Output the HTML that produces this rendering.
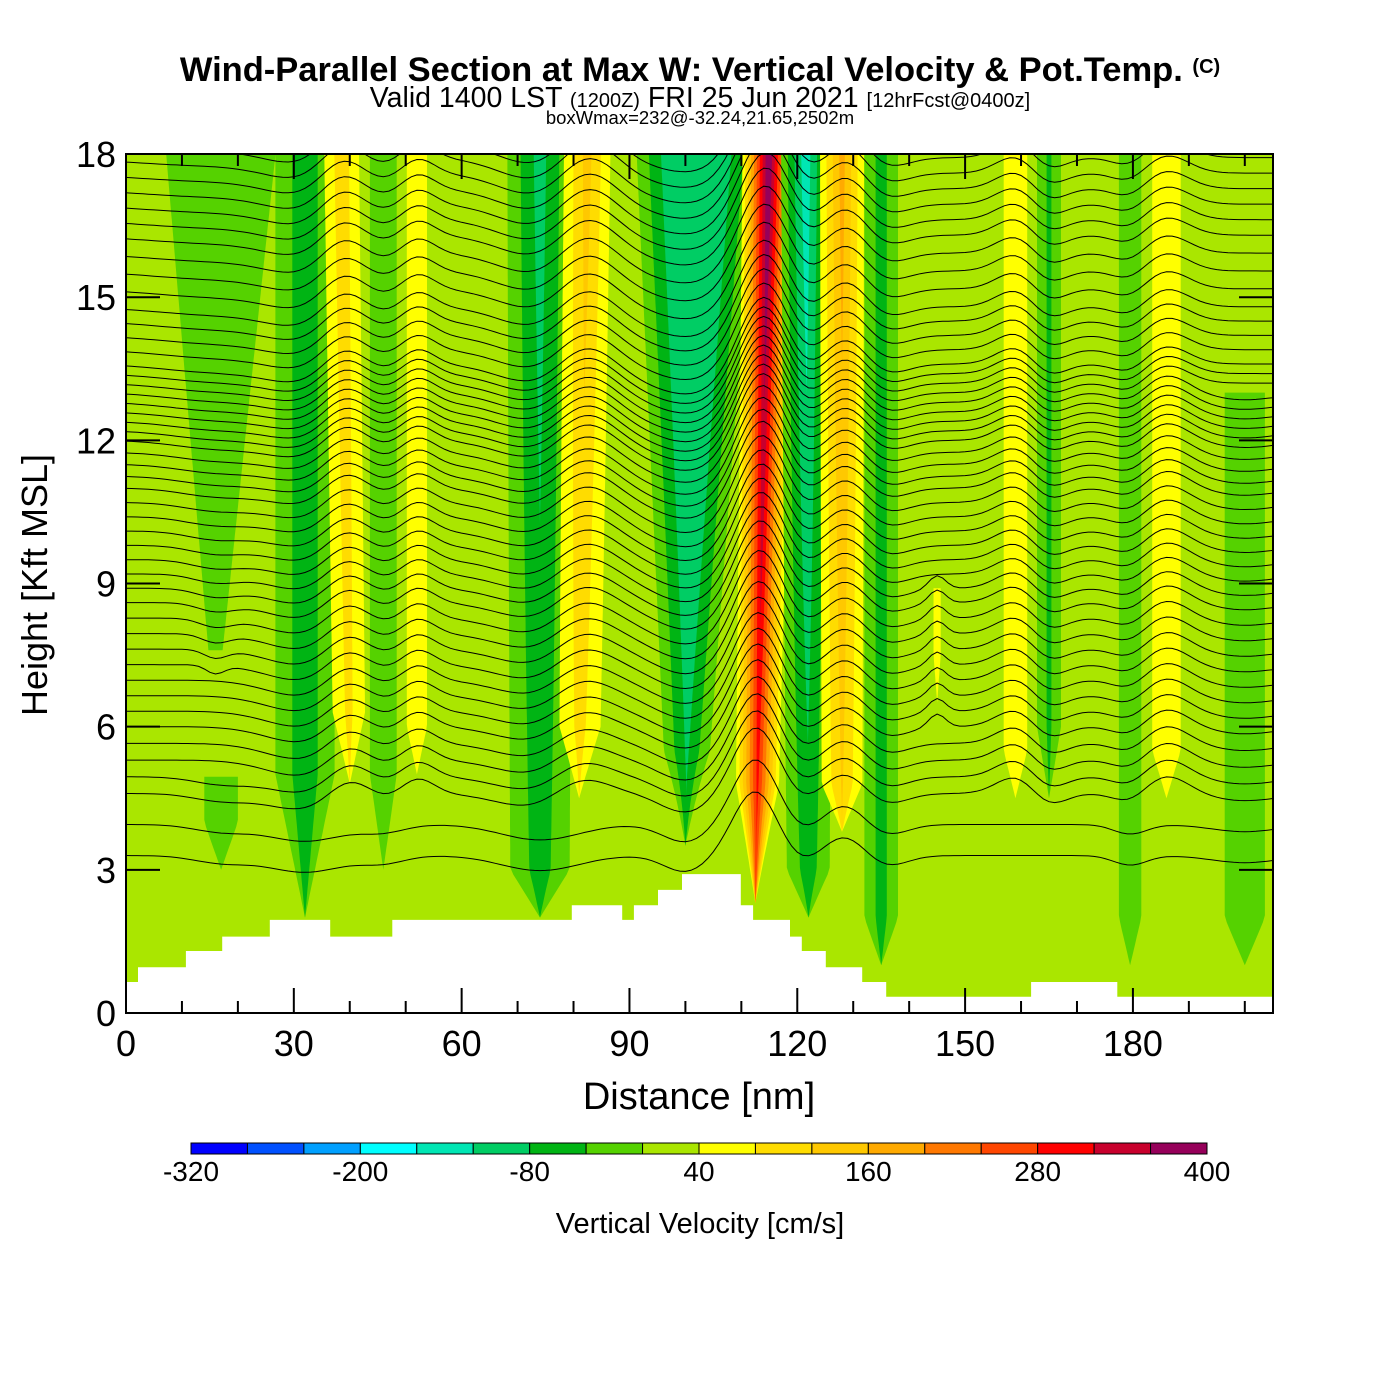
<!DOCTYPE html>
<html><head><meta charset="utf-8"><style>
html,body{margin:0;padding:0;background:#fff;}
svg{display:block;font-family:"Liberation Sans",sans-serif;}
</style></head><body>
<svg id="chart" width="1400" height="1400" viewBox="0 0 1400 1400" xmlns="http://www.w3.org/2000/svg">
<rect width="1400" height="1400" fill="#fff"/>
<text x="700" y="81" text-anchor="middle" font-size="34.5" font-weight="bold">Wind-Parallel Section at Max W: Vertical Velocity &amp; Pot.Temp. <tspan font-size="20" dy="-8">(C)</tspan></text>
<text x="700" y="107" text-anchor="middle" font-size="28.5">Valid 1400 LST <tspan font-size="20">(1200Z)</tspan> FRI 25 Jun 2021 <tspan font-size="20">[12hrFcst@0400z]</tspan></text>
<text x="700" y="124" text-anchor="middle" font-size="18.5">boxWmax=232@-32.24,21.65,2502m</text>
<defs><clipPath id="plotclip"><rect x="126" y="154" width="1147" height="859"/></clipPath></defs>
<g id="plot" clip-path="url(#plotclip)"></g>
<g id="axes"></g>
<text transform="translate(47,585) rotate(-90)" text-anchor="middle" font-size="36">Height [Kft MSL]</text>
<text x="699" y="1109" text-anchor="middle" font-size="38">Distance [nm]</text>
<g id="cbar"></g>
<text x="700" y="1233" text-anchor="middle" font-size="29">Vertical Velocity [cm/s]</text>
</svg>
<script>
// ---- data ----
const binColors = ["#0000ff","#0050ff","#00a0ff","#00ffff","#00e6b4","#00cd64","#00b414","#55d200","#aae600","#ffff00","#ffdc00","#ffc800","#ffaa00","#ff7800","#ff4600","#ff0000","#c8002d","#96005a"];
const cbarTicks = [-320,-200,-80,40,160,280,400];
const xTicks = [0,30,60,90,120,150,180];
const yTicks = [0,3,6,9,12,15,18];
const background = 20;
// vertical-velocity features (nm, kft, cm/s)
const stripeCenterBottom = [16, 17, 32, 40, 46, 52, 74, 81, 100, 112.5, 122, 128, 135, 145, 159, 165, 179.5, 186, 200];
const stripeCenterTop    = [17, 17, 32, 38.5, 46, 52, 74, 82.5, 102, 115, 121.5, 128, 135, 145, 159, 165, 179.5, 186, 200];
const stripeBottom       = [7.6, 3, 2, 4.8, 3, 5, 2, 4.5, 3.5, 2.3, 2, 3.8, 1, 6.5, 4.5, 4.5, 1, 4.5, 1];
const stripeTop          = [18.5, 5, 18.5, 18.5, 18.5, 18.5, 18.5, 18.5, 18.5, 18.5, 18.5, 18.5, 18.5, 9, 18.5, 18.5, 18.5, 18.5, 13];
const stripeHalfWBottom  = [2, 5, 6.8, 4, 4, 3, 7, 5, 4, 4, 5, 4.5, 4, 1.5, 3.5, 3, 3, 4, 6];
const stripeHalfWTop     = [16, 5, 6.8, 4, 4, 3, 7, 5, 12, 5, 5, 4.5, 4, 1.5, 3.5, 3, 3, 4, 6];
const stripePeakBottom   = [-35, -30, -70, 90, -30, 70, -60, 90, -70, 270, -60, 120, -60, 55, 70, -50, -40, 75, -30];
const stripePeakTop      = [-35, -30, -70, 110, -30, 70, -100, 140, -200, 410, -150, 180, -60, 55, 70, -50, -40, 75, -30];
const stripeTaper        = [0, 1, 3, 1.5, 2, 1, 1, 1.5, 2, 2.5, 1, 1, 1, 1, 1, 1.5, 1, 1, 1];
// terrain
const terrainEdges   = [0,2.15,10.7,17.2,25.7,36.5,47.6,79.7,88.7,90.8,95.1,99.4,109.9,112.1,118.7,120.8,125.1,131.6,135.9,161.8,177.2,205];
const terrainHeights = [0.65,0.96,1.3,1.6,1.95,1.6,1.95,2.26,1.95,2.26,2.58,2.91,2.26,1.95,1.6,1.3,0.96,0.65,0.34,0.65,0.34];
// potential temperature levels (K) and reference heights (kft)
const thetaLevels  = [21,22,24,26,28,30,32,34,36,38,40,42,44];
const thetaHeights = [3.3,4.6,6.0,7.3,8.6,9.8,11.0,12.0,12.8,13.6,14.8,16.3,17.6];

// ---- scales ----
const X = d => 126 + d * 5.594;
const Y = h => 1013 - h * 47.72;
const NS = "http://www.w3.org/2000/svg";
const plot = document.getElementById('plot');
const axes = document.getElementById('axes');
const cbar = document.getElementById('cbar');
function mk(tag, attrs, parent){const e=document.createElementNS(NS,tag);for(const k in attrs)e.setAttribute(k,attrs[k]);parent.appendChild(e);return e;}

const bg = mk('rect',{x:126,y:154,width:1147,height:859,fill:binColors[8]},plot);



function binIndex(v){return Math.max(0,Math.min(17,Math.floor((v+320)/40)));}
for(let i=0;i<stripeCenterBottom.length;i++){
  const h0=stripeBottom[i], h1=stripeTop[i];
  const info=h=>{const t=(h-h0)/(h1-h0);return{c:stripeCenterBottom[i]+(stripeCenterTop[i]-stripeCenterBottom[i])*t,w:stripeHalfWBottom[i]+(stripeHalfWTop[i]-stripeHalfWBottom[i])*t,v:stripePeakBottom[i]+(stripePeakTop[i]-stripePeakBottom[i])*t,tf:stripeTaper[i]>0?Math.min(1,(h-h0)/stripeTaper[i]):1};};
  const vmax=Math.max(stripePeakBottom[i],stripePeakTop[i]), vmin=Math.min(stripePeakBottom[i],stripePeakTop[i]);
  const thresholds=[];
  if(vmax>background){for(let T=40;T<vmax;T+=40)thresholds.push(T);}
  else{for(let T=0;T>vmin;T-=40)thresholds.push(T);}
  const g=mk('g',{},plot);
  
  
  thresholds.forEach(T=>{
    if(T<=-120 && vmin<=-180) return; // cap the broad downdraft at the -120..-80 band
    const L=[],R=[];
    for(let h=h0;h<=h1+1e-6;h+=0.15){
      const s=info(h);let hw=0;
      const frac=(T-background)/(s.v-background);
      if(frac>0&&frac<1)hw=s.w*s.tf*(1-frac);
      L.push([X(s.c-hw),Y(h)]);R.push([X(s.c+hw),Y(h)]);
    }
    const pts=L.concat(R.reverse()).map(p=>p[0].toFixed(1)+','+p[1].toFixed(1)).join(' ');
    const col=T>0?binColors[binIndex(T)]:binColors[binIndex(T-1)];
    const p=mk('polygon',{points:pts,fill:col},g);
    
    
  });
}

function baseH(th){for(let k=0;k<thetaLevels.length-1;k++){if(th<=thetaLevels[k+1]){const t=(th-thetaLevels[k])/(thetaLevels[k+1]-thetaLevels[k]);return thetaHeights[k]+t*(thetaHeights[k+1]-thetaHeights[k]);}}return thetaHeights[thetaHeights.length-1]+(th-44)*0.65;}
function disp(d,h){let s=0;for(let i=0;i<stripeCenterBottom.length;i++){if(h<stripeBottom[i]-0.5||h>stripeTop[i])continue;const t=(h-stripeBottom[i])/(stripeTop[i]-stripeBottom[i]);const c=stripeCenterBottom[i]+(stripeCenterTop[i]-stripeCenterBottom[i])*t;const w=stripeHalfWBottom[i]+(stripeHalfWTop[i]-stripeHalfWBottom[i])*t;const v=Math.max(-130,stripePeakBottom[i]+(stripePeakTop[i]-stripePeakBottom[i])*t);s+=(v/300)*1.5*Math.exp(-Math.pow((d-c)/(w*1.4),2));}return s;}
const tg=mk('g',{fill:'none',stroke:'#000','stroke-width':1},plot);


for(let th=21;th<=45;th+=0.5){
  const b=baseH(th);let dstr='';
  for(let d=0;d<=205;d+=1){const h=b+disp(d,b);dstr+=(d===0?'M':'L')+X(d).toFixed(1)+','+Y(h).toFixed(1);}
  const p=mk('path',{d:dstr},tg);
  
  
}

let tp='M'+X(0)+','+Y(-1);
for(let i=0;i<terrainHeights.length;i++){tp+='L'+X(terrainEdges[i]).toFixed(1)+','+Y(terrainHeights[i]).toFixed(1)+'L'+X(terrainEdges[i+1]).toFixed(1)+','+Y(terrainHeights[i]).toFixed(1);}
tp+='L'+X(205)+','+Y(-1)+'Z';
const terr=mk('path',{d:tp,fill:'#fff'},plot);



const frame=mk('rect',{x:126,y:154,width:1147,height:859,fill:'none',stroke:'#000','stroke-width':2},axes);


for(let d=10;d<205;d+=10){const major=d%30===0;const L=major?25:12;
  mk('line',{x1:X(d),x2:X(d),y1:1013,y2:1013-L,stroke:'#000','stroke-width':2},axes);
  mk('line',{x1:X(d),x2:X(d),y1:154,y2:154+L,stroke:'#000','stroke-width':2},axes);}
xTicks.forEach(d=>{const t=mk('text',{x:X(d),y:1056,'text-anchor':'middle','font-size':36},axes);t.textContent=d;
  
  });
yTicks.forEach(h=>{
  mk('line',{x1:126,x2:160,y1:Y(h),y2:Y(h),stroke:'#000','stroke-width':2},axes);
  mk('line',{x1:1273,x2:1239,y1:Y(h),y2:Y(h),stroke:'#000','stroke-width':2},axes);
  const t=mk('text',{x:116,y:Y(h)+13,'text-anchor':'end','font-size':36},axes);t.textContent=h;
  
  });

const cbX=v=>191+(v+320)*(1016/720);
binColors.forEach((c,i)=>{const r=mk('rect',{x:cbX(-320+40*i),y:1143,width:1016/18,height:11,fill:c,stroke:'#000','stroke-width':1},cbar);
  
  });
cbarTicks.forEach(v=>{const t=mk('text',{x:cbX(v),y:1181,'text-anchor':'middle','font-size':28},cbar);t.textContent=v;
  
  });
</script>
</body></html>
